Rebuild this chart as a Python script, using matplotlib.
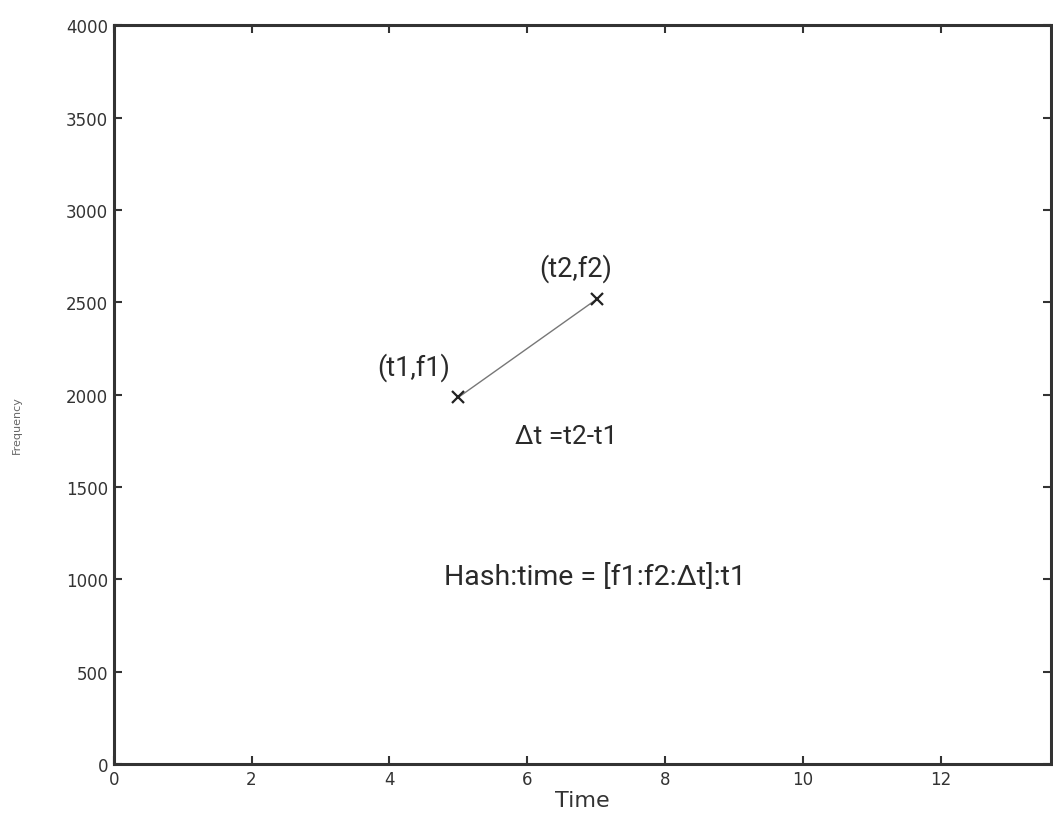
import matplotlib
matplotlib.use("Agg")
import matplotlib.pyplot as plt

t_points = [5.0, 7.02]
f_points = [1985, 2520]
point_labels = ["(t1,f1)", "(t2,f2)"]
label_pos_t = [4.35, 6.70]
label_pos_f = [2154, 2690]
x_ticks = [0, 2, 4, 6, 8, 10, 12]
y_ticks = [0, 500, 1000, 1500, 2000, 2500, 3000, 3500, 4000]

fig = plt.figure(figsize=(10.53, 8.2), dpi=100)
ax = fig.add_axes([0.108, 0.067, 0.890, 0.901])

ax.plot(t_points, f_points, color="#777777", lw=1.0)
ax.plot(t_points, f_points, linestyle="none", marker="x", color="#222222",
        markersize=8, markeredgewidth=1.6)

ann_font = ["Roboto", "DejaVu Sans"]
for lbl, tx, fy in zip(point_labels, label_pos_t, label_pos_f):
    ax.text(tx, fy, lbl, ha="center", va="center", fontsize=19.5,
            color="#2a2a2a", family=ann_font)

ax.text(6.57, 1775, "Δt =t2-t1", ha="center", va="center", fontsize=19,
        color="#2a2a2a", family=ann_font)
ax.text(6.99, 1018, "Hash:time = [f1:f2:Δt]:t1", ha="center", va="center",
        fontsize=20.5, color="#2a2a2a", family=ann_font)

ax.set_xlim(0, 13.6)
ax.set_ylim(0, 4000)
ax.set_xticks(x_ticks)
ax.set_yticks(y_ticks)
ax.tick_params(direction="in", top=True, right=True, length=6, width=1.5,
               labelsize=12, colors="#333333", pad=4)
for s in ax.spines.values():
    s.set_linewidth(2.2)
    s.set_color("#333333")

ax.set_xlabel("Time", fontsize=16, color="#333333", labelpad=2)
ax.set_ylabel("Frequency", fontsize=8, color="#666666")
ax.yaxis.set_label_coords(-0.098, 0.46)

fig.savefig("out.png", dpi=100)
